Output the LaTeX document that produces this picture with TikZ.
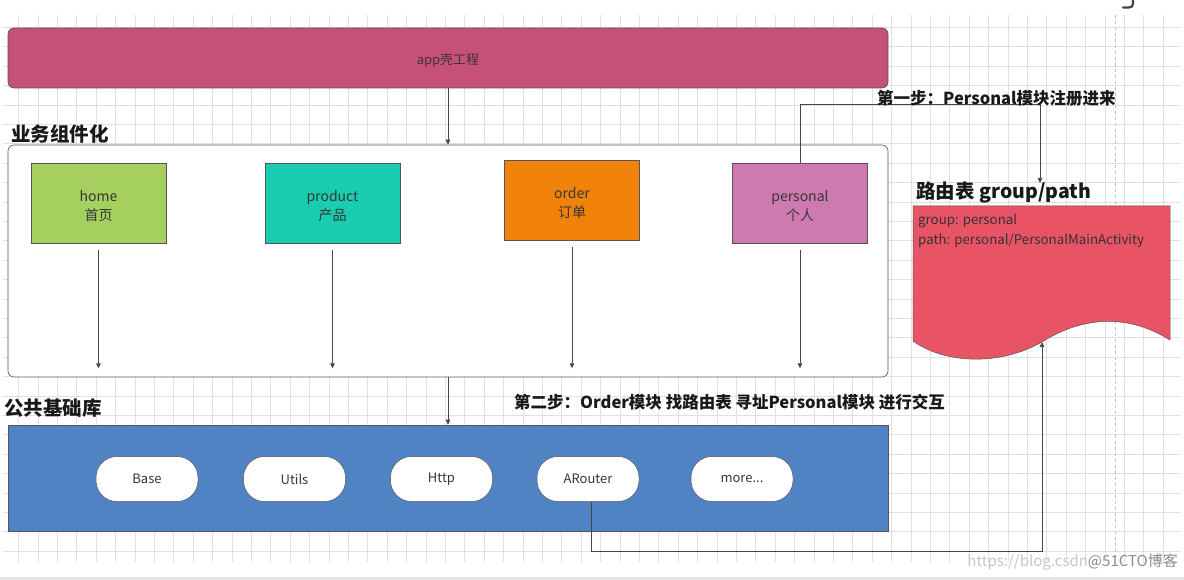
\documentclass[tikz,border=0pt]{standalone}
\usepackage{fontspec}
\setmainfont{Noto Sans CJK SC}
\usetikzlibrary{arrows.meta}
\definecolor{appc}{RGB}{199,81,118}
\definecolor{homec}{RGB}{165,207,95}
\definecolor{prodc}{RGB}{26,204,176}
\definecolor{orderc}{RGB}{240,130,10}
\definecolor{persc}{RGB}{204,122,176}
\definecolor{rtc}{RGB}{232,83,101}
\definecolor{libc}{RGB}{80,131,196}
\definecolor{bordergray}{RGB}{85,85,85}
\definecolor{linegray}{RGB}{70,70,70}
\definecolor{textgray}{RGB}{55,55,55}
\definecolor{gridc}{RGB}{224,224,224}
\definecolor{jc}{RGB}{60,68,78}
\tikzset{
  modbox/.style={draw=bordergray, line width=0.6pt, minimum width=135pt, minimum height=80pt, inner sep=0pt},
  modtext/.style={font=\fontsize{14}{19}\selectfont, text=textgray, align=center, inner sep=0pt},
  pill/.style={draw=bordergray, line width=0.5pt, fill=white, rounded corners=21pt, minimum width=102pt,
    minimum height=45pt, font=\fontsize{13}{15}\selectfont, text=textgray, inner sep=0pt},
  conn/.style={draw=linegray, line width=0.7pt},
  arr/.style={conn, -{Triangle[length=5pt,width=4.5pt]}},
  biglabel/.style={font=\fontsize{19.5}{22}\selectfont\bfseries, anchor=west, inner sep=0pt, text=black!90},
  steplabel/.style={font=\fontsize{16.5}{18}\selectfont\bfseries, anchor=west, inner sep=0pt, text=black!90},
  rttext/.style={font=\fontsize{13.3}{15}\selectfont, anchor=west, inner sep=0pt, text=black!80},
  gridline/.style={draw=gridc, line width=0.6pt}
}
\begin{document}
\begin{tikzpicture}[x=1pt,y=-1pt]
\useasboundingbox (0,0) rectangle (1184,580);
\fill[white] (0,0) rectangle (1184,580);
% grid
\foreach \i in {0,...,59} {
  \pgfmathsetmacro\xx{18.5+19.4*\i}
  \draw[gridline] (\xx,15) -- (\xx,562);
}
\foreach \j in {0,...,27} {
  \pgfmathsetmacro\yy{27.3+19.4*\j}
  \draw[gridline] (3,\yy) -- (1180,\yy);
}
\draw[draw=black!25, dashed, line width=0.6pt] (1115,15) -- (1115,562);
\fill[black!10] (0,577) rectangle (1184,580);
% corner glyph
\draw[jc, line width=2.2pt, line cap=round] (1123,7.5) -- (1129,7.5) .. controls (1132,7.5) and (1133,6) .. (1133,3) -- (1133,0);

% app shell
\node[draw=bordergray, line width=0.6pt, fill=appc, rounded corners=6pt, minimum width=880pt, minimum height=60pt] (app) at (448,58) {};
\node[font=\fontsize{13}{15}\selectfont, text=textgray, inner sep=0pt] (apptext) at (448,61) {app壳工程};

% business container
\node[biglabel] (bizlabel) at (11,134) {业务组件化};
\node[draw=bordergray, line width=0.6pt, fill=white, rounded corners=6pt, minimum width=880pt, minimum height=232pt] (biz) at (448,261) {};

\node[modbox, fill=homec] (home) at (98.5,203) {};
\node[modbox, fill=prodc] (product) at (332.5,203) {};
\node[modbox, fill=orderc] (order) at (572,200) {};
\node[modbox, fill=persc] (personal) at (800,203) {};
\node[modtext] (hometext) at ([yshift=-3pt]home.center) {home\\首页};
\node[modtext] (producttext) at ([yshift=-3pt]product.center) {product\\产品};
\node[modtext] (ordertext) at ([yshift=-3pt]order.center) {order\\订单};
\node[modtext] (personaltext) at ([yshift=-3pt]personal.center) {personal\\个人};

\foreach \n in {home,product,order,personal} {
  \coordinate (\n top) at ([yshift=-7pt]\n.south);
  \coordinate (\n end) at ([yshift=9pt]\n.south |- biz.south);
  \draw[arr] (\n top) -- (\n end);
}

\draw[arr] (app.south) -- (biz.north);

% library
\node[biglabel] (liblabel) at (4,408) {公共基础库};
\node[draw=bordergray, line width=0.6pt, fill=libc, minimum width=880pt, minimum height=106pt] (lib) at (448,478) {};
\draw[arr] (biz.south) -- (lib.north);

\node[pill] (base) at (147,479) {Base};
\node[pill] (utils) at (294.5,479) {Utils};
\node[pill] (http) at (441.5,479) {Http};
\node[pill] (arouter) at (588,479) {ARouter};
\node[pill] (more) at (742,479) {more...};

% route table
\node[biglabel] (rttitle) at (916,192) {路由表 group/path};
\path[draw=bordergray, line width=0.5pt, fill=rtc] (913,206) -- (1170,206) -- (1170,340)
  .. controls (1125,312) and (1080,318) .. (1042,342)
  .. controls (1000,366) and (945,364) .. (913,341) -- cycle;
\node[rttext] (rtgroup) at (918,221) {group: personal};
\node[rttext] (rtpath) at (918,241) {path: personal/PersonalMainActivity};

% step 1
\coordinate (bend1) at (1040,104);
\coordinate (rtin) at (1040,183);
\draw[arr] (personal.north) |- (bend1) -- (rtin);
\node[steplabel] (step1) at (877,98) {第一步：Personal模块注册进来};

% step 2
\node[steplabel] (step2) at (514,402) {第二步：Order模块 找路由表 寻址Personal模块 进行交互};
\coordinate (arbot) at ([xshift=3pt]arouter.south);
\coordinate (bend2) at (1042,551);
\coordinate (rtwave) at (1042,342);
\draw[arr] (arbot) |- (bend2) -- (rtwave);

% watermark
\node[font=\fontsize{15}{17}\selectfont, anchor=east, inner sep=0pt] (wm) at (1178,562)
  {{\color{black!22}https://blog.csdn}{\color{black!45}@51CTO博客}};
\end{tikzpicture}
\end{document}
